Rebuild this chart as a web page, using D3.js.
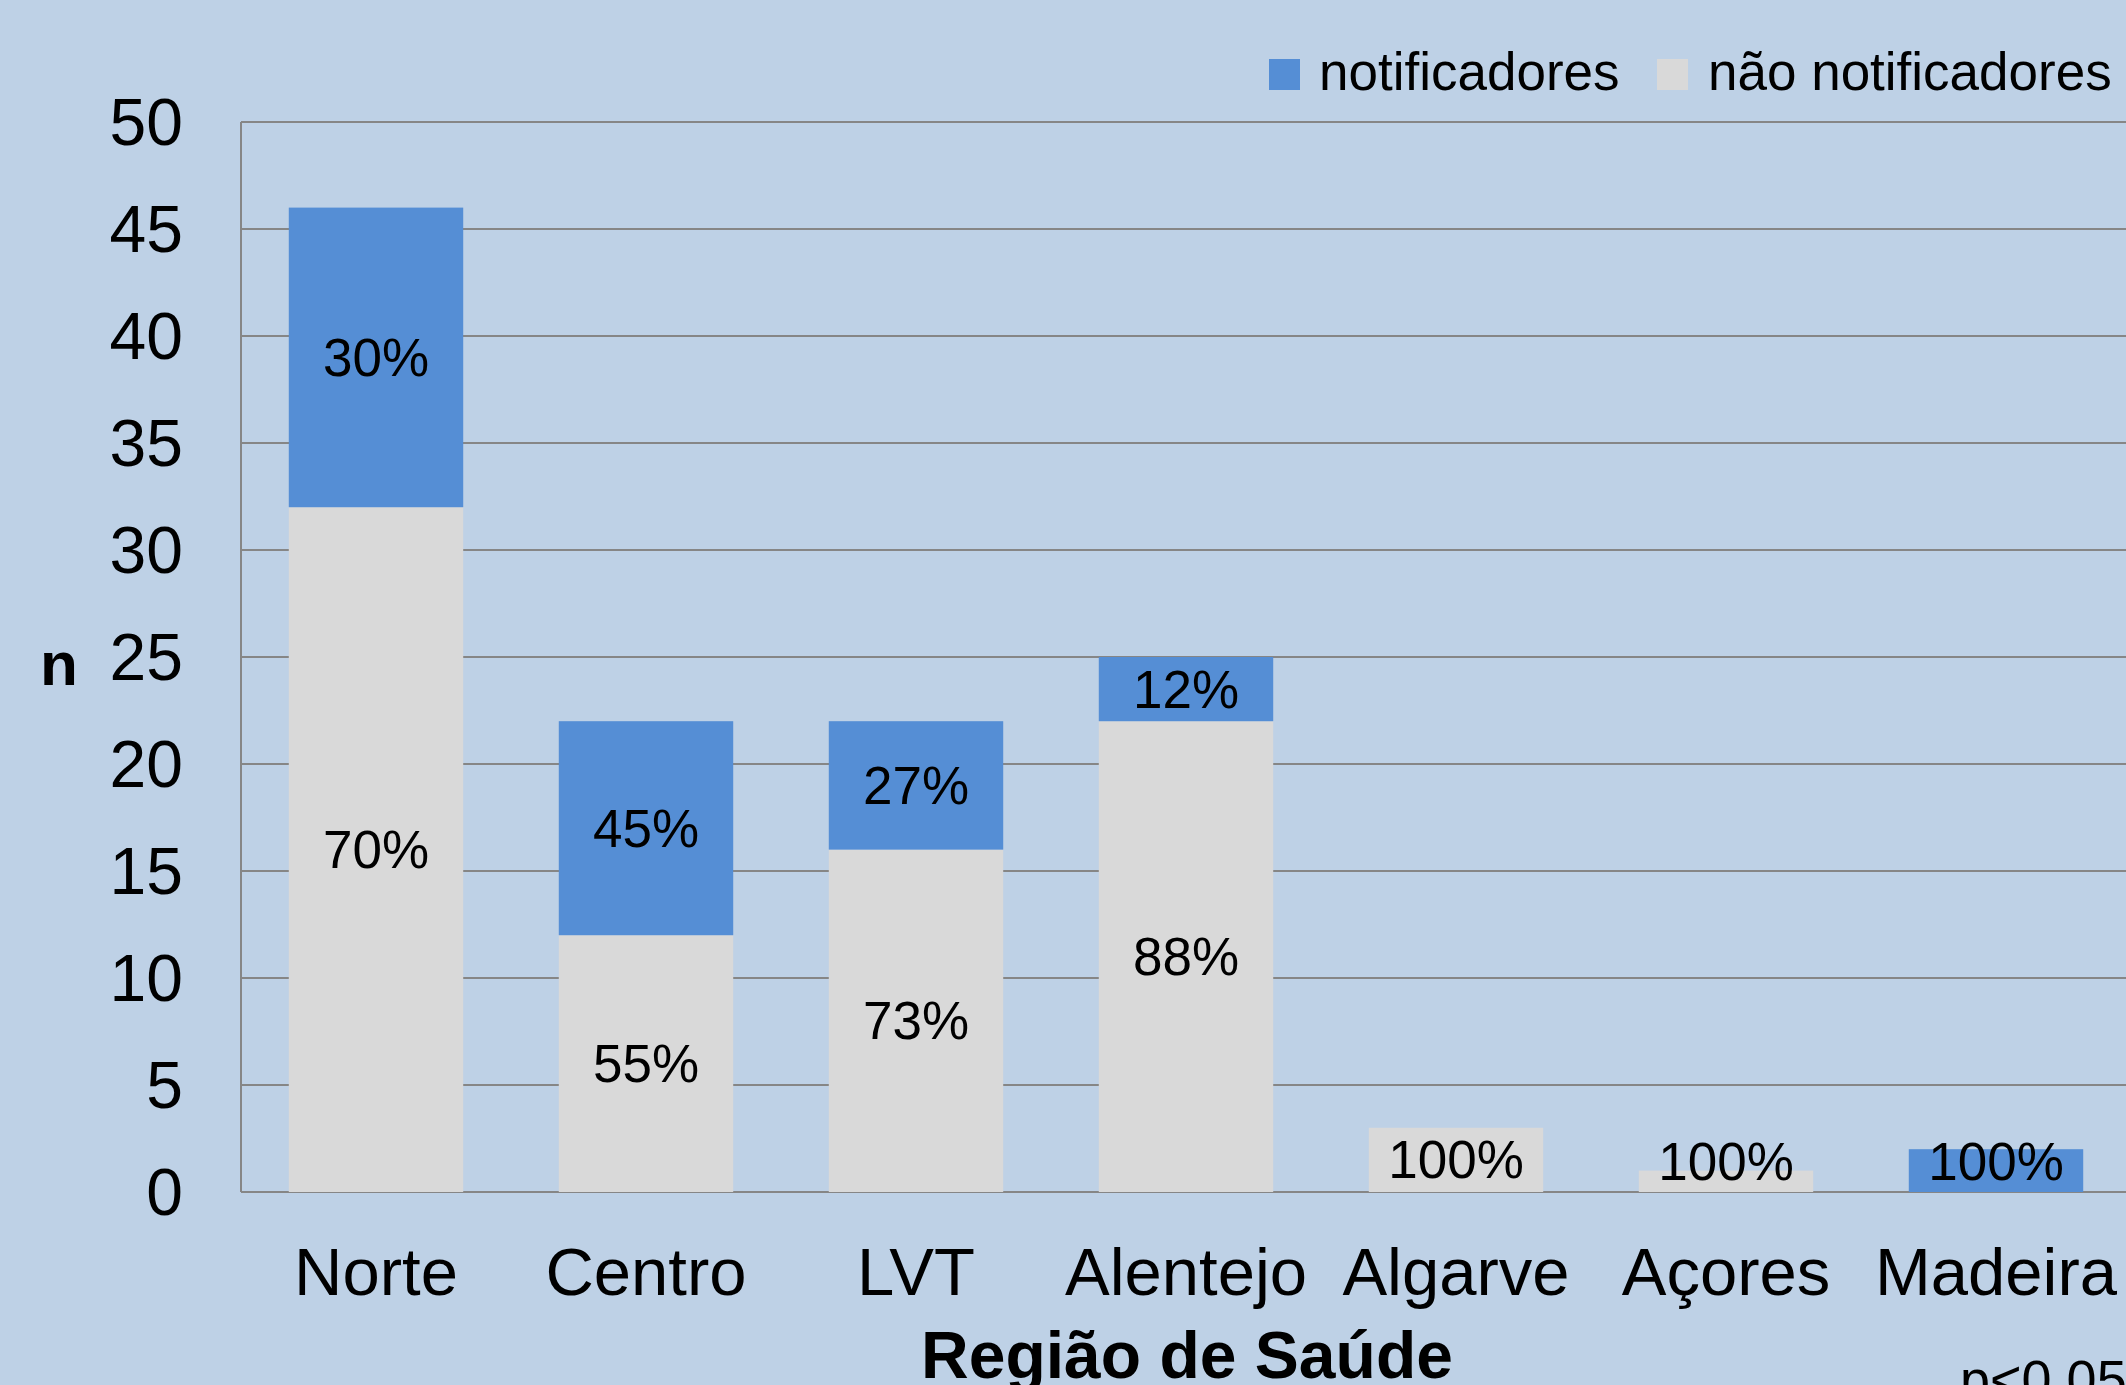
<!DOCTYPE html>
<html>
<head>
<meta charset="utf-8">
<script src="https://cdn.jsdelivr.net/npm/d3@7"></script>
<style>
  html, body { margin: 0; padding: 0; background: #BED1E6; }
  svg { display: block; }
  text { font-family: "Liberation Sans", Arial, sans-serif; fill: #000; }
</style>
</head>
<body>
<script>
const categories = ["Norte", "Centro", "LVT", "Alentejo", "Algarve", "Açores", "Madeira"];
const naoNotificadores = [32, 12, 16, 22, 3, 1, 0];
const notificadores = [14, 10, 6, 3, 0, 0, 2];
const naoNotifLabels = ["70%", "55%", "73%", "88%", "100%", "100%", ""];
const notifLabels = ["30%", "45%", "27%", "12%", "", "", "100%"];
const yTicks = [0, 5, 10, 15, 20, 25, 30, 35, 40, 45, 50];
const seriesNames = ["notificadores", "não notificadores"];
const colors = { notif: "#558ED5", nao: "#D9D9D9" };

(function () {
const W = 2126, H = 1385;
const pLeft = 241, pRight = 2131, pTop = 122, pBottom = 1192;

const svg = d3.select("body").append("svg").attr("width", W).attr("height", H);
svg.append("rect").attr("width", W).attr("height", H).attr("fill", "#BED1E6");

const x = d3.scaleBand().domain(categories).range([pLeft, pRight]).paddingInner(0.354).paddingOuter(0.177);
const y = d3.scaleLinear().domain([0, 50]).range([pBottom, pTop]);

// gridlines
svg.append("g").selectAll("line").data(yTicks).join("line")
  .attr("x1", pLeft).attr("x2", W)
  .attr("y1", d => y(d)).attr("y2", d => y(d))
  .attr("stroke", "#868686").attr("stroke-width", 2);

// left axis line
svg.append("line").attr("x1", pLeft).attr("x2", pLeft).attr("y1", y(50)).attr("y2", y(0))
  .attr("stroke", "#868686").attr("stroke-width", 2);

// y tick labels
svg.append("g").selectAll("text").data(yTicks).join("text")
  .attr("x", 183).attr("y", d => y(d)).attr("dy", "0.35em")
  .attr("text-anchor", "end").attr("font-size", 66).text(d => d);

const data = categories.map((c, i) => ({ c, nao: naoNotificadores[i], notif: notificadores[i], naoL: naoNotifLabels[i], notifL: notifLabels[i] }));

// bars
const g = svg.append("g");
g.selectAll("rect.nao").data(data).join("rect").attr("class", "nao")
  .attr("x", d => x(d.c)).attr("width", x.bandwidth())
  .attr("y", d => y(d.nao)).attr("height", d => y(0) - y(d.nao))
  .attr("fill", colors.nao);
g.selectAll("rect.notif").data(data).join("rect").attr("class", "notif")
  .attr("x", d => x(d.c)).attr("width", x.bandwidth())
  .attr("y", d => y(d.nao + d.notif)).attr("height", d => y(d.nao) - y(d.nao + d.notif))
  .attr("fill", colors.notif);

// labels
const labelY = v => Math.min(y(v), y(0) - 31);
g.selectAll("text.naoL").data(data.filter(d => d.naoL)).join("text").attr("class", "naoL")
  .attr("x", d => x(d.c) + x.bandwidth() / 2).attr("y", d => labelY(d.nao / 2)).attr("dy", "0.35em")
  .attr("text-anchor", "middle").attr("font-size", 53).text(d => d.naoL);
g.selectAll("text.notifL").data(data.filter(d => d.notifL)).join("text").attr("class", "notifL")
  .attr("x", d => x(d.c) + x.bandwidth() / 2).attr("y", d => labelY(d.nao + d.notif / 2)).attr("dy", "0.35em")
  .attr("text-anchor", "middle").attr("font-size", 53).text(d => d.notifL);

// category labels
svg.append("g").selectAll("text").data(categories).join("text")
  .attr("x", d => x(d) + x.bandwidth() / 2).attr("y", 1295)
  .attr("text-anchor", "middle").attr("font-size", 67).text(d => d);

// axis titles
svg.append("text").attr("x", 1187).attr("y", 1378)
  .attr("text-anchor", "middle").attr("font-size", 66).attr("font-weight", "bold").text("Região de Saúde");
svg.append("text").attr("x", 59).attr("y", 685)
  .attr("text-anchor", "middle").attr("font-size", 62).attr("font-weight", "bold").text("n");
svg.append("text").attr("x", 1960).attr("y", 1398)
  .attr("font-size", 54).text("p<0.05");

// legend
const legend = svg.append("g");
const legendItems = [
  { name: seriesNames[0], color: colors.notif, sx: 1269, tx: 1319 },
  { name: seriesNames[1], color: colors.nao, sx: 1657, tx: 1708 }
];
legend.selectAll("rect").data(legendItems).join("rect")
  .attr("x", d => d.sx).attr("y", 59).attr("width", 31).attr("height", 31).attr("fill", d => d.color);
legend.selectAll("text").data(legendItems).join("text")
  .attr("x", d => d.tx).attr("y", 90).attr("font-size", 53).text(d => d.name);
})();
</script>
</body>
</html>
